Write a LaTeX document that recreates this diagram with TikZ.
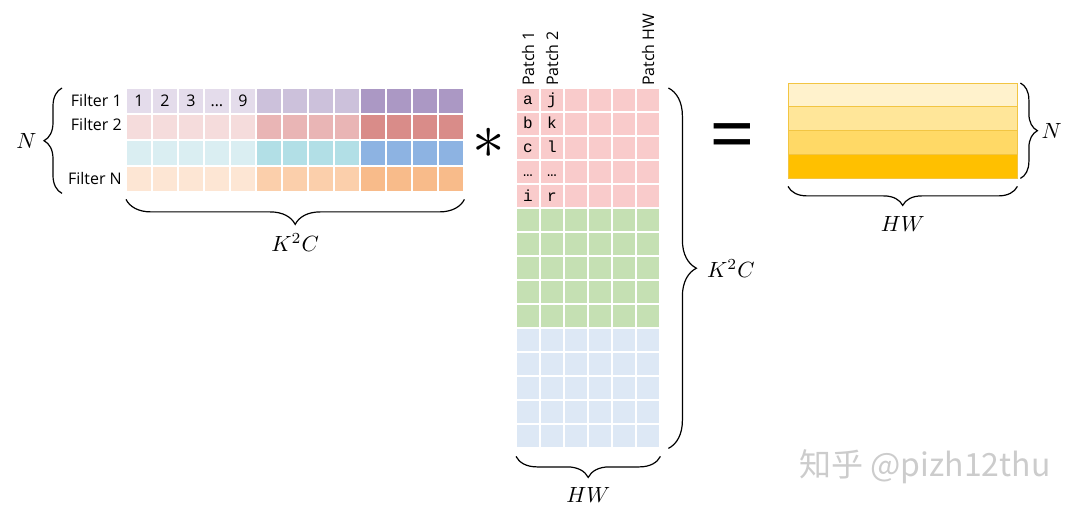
\documentclass[tikz,border=0pt]{standalone}
\usepackage{fontspec}
\setmainfont{Open Sans}
\setmonofont{Liberation Mono}
\newfontfamily\cjkfont{Noto Sans CJK SC}
\usetikzlibrary{decorations.pathreplacing}

\definecolor{pur1}{HTML}{E4DCEB}
\definecolor{pur2}{HTML}{CCC1DB}
\definecolor{pur3}{HTML}{AB98C4}
\definecolor{red1}{HTML}{F5DCDC}
\definecolor{red2}{HTML}{E9B5B5}
\definecolor{red3}{HTML}{D98C89}
\definecolor{cya1}{HTML}{DAEEF2}
\definecolor{cya2}{HTML}{B2DFE6}
\definecolor{cya3}{HTML}{8DB3E2}
\definecolor{ora1}{HTML}{FDE6D4}
\definecolor{ora2}{HTML}{FBCFAB}
\definecolor{ora3}{HTML}{F8BB8A}
\definecolor{patch1}{HTML}{F9CBCB}
\definecolor{patch2}{HTML}{C5E0B3}
\definecolor{patch3}{HTML}{DDE8F5}
\definecolor{gold1}{HTML}{FFF2CC}
\definecolor{gold2}{HTML}{FFE699}
\definecolor{gold3}{HTML}{FFD966}
\definecolor{gold4}{HTML}{FFC000}
\definecolor{goldline}{HTML}{F2C542}

\tikzset{
    curly/.style={decorate, decoration={brace, amplitude=#1}, line width=1.2pt},
    matbox/.style={inner sep=0pt, anchor=north west},
    filtertxt/.style={anchor=east, inner sep=0pt, font=\fontsize{16}{19}\selectfont},
    numtxt/.style={anchor=base, inner sep=0pt, font=\fontsize{16}{19}\selectfont},
    monotxt/.style={anchor=base, inner sep=0pt, font=\ttfamily\fontsize{16}{19}\selectfont},
    patchtxt/.style={anchor=west, rotate=90, inner sep=0pt, font=\fontsize{16}{19}\selectfont},
    mathtxt/.style={scale=2.2, inner sep=1pt}
}

\begin{document}
\begin{tikzpicture}[x=1pt, y=-1pt]
    \useasboundingbox (0,0) rectangle (1080,516);

    % Filter matrix
    \foreach \r/\hue in {0/pur,1/red,2/cya,3/ora}
        \foreach \c in {0,...,12}{
            \pgfmathtruncatemacro\s{\c<5 ? 1 : (\c<9 ? 2 : 3)}
            \fill[\hue\s] (127+26*\c, 89+26*\r) rectangle ++(24,24);
        }
    \node[matbox, minimum width=338pt, minimum height=104pt] (filters) at (126,88) {};
    \node[filtertxt] (f1) at (122,101) {Filter 1};
    \node[filtertxt] (f2) at (122,125) {Filter 2};
    \node[filtertxt] (fn) at (122,179) {Filter N};
    \foreach \t [count=\i from 0] in {1,2,3,…,9}
        \node[numtxt] (w\i) at (139+26*\i, 107) {\t};

    % N brace and K^2C brace
    \draw[curly=18] ([xshift=-64pt, yshift=-1pt]filters.south west) -- node[mathtxt, left=10pt] (nleft) {$N$} ([xshift=-64pt]filters.north west);
    \draw[curly=25] ([yshift=-7pt]filters.south east) -- node[mathtxt, below=14pt] (kleft) {$K^2C$} ([yshift=-7pt]filters.south west);

    % Times sign
    \node[scale=6.5] (times) at (489,143) {$\ast$};

    % Patch matrix
    \foreach \r in {0,...,14}
        \foreach \c in {0,...,5}{
            \pgfmathtruncatemacro\s{\r<5 ? 1 : (\r<10 ? 2 : 3)}
            \fill[patch\s] (517+24*\c, 89+24*\r) rectangle ++(22,22);
        }
    \node[matbox, minimum width=144pt, minimum height=360pt] (patches) at (516,88) {};
    \node[patchtxt] (p1) at (528,86) {Patch 1};
    \node[patchtxt] (p2) at (552,86) {Patch 2};
    \node[patchtxt] (phw) at (648,86) {Patch HW};
    \foreach \t [count=\i from 0] in {a,b,c,…,i}
        \node[monotxt] (pa\i) at (528, 105+24*\i) {\t};
    \foreach \t [count=\i from 0] in {j,k,l,…,r}
        \node[monotxt] (pb\i) at (552, 105+24*\i) {\t};

    \draw[curly=28] ([xshift=8pt]patches.north east) -- node[mathtxt, right=16pt] (kright) {$K^2C$} ([xshift=8pt]patches.south east);
    \draw[curly=21] ([yshift=-8pt]patches.south east) -- node[mathtxt, below=12.5pt] (hwmid) {$HW$} ([yshift=-8pt]patches.south west);

    % Equals sign
    \node[inner sep=0pt, font=\fontsize{80}{80}\selectfont] (eq) at (732,143) {=};

    % Output matrix
    \foreach \r/\col in {0/gold1,1/gold2,2/gold3,3/gold4}
        \filldraw[fill=\col, draw=goldline, line width=0.7pt] (788, 83+23.75*\r) rectangle ++(229,23.75);
    \node[matbox, minimum width=229pt, minimum height=95pt] (result) at (788,83) {};
    \draw[curly=17] ([xshift=3pt]result.north east) -- node[mathtxt, right=8pt] (nright) {$N$} ([xshift=3pt]result.south east);
    \draw[curly=19] ([yshift=-8pt]result.south east) -- node[mathtxt, below=12pt] (hwright) {$HW$} ([yshift=-8pt]result.south west);

    % Watermark
    \node[font=\cjkfont\fontsize{32}{32}\selectfont, text=black!20] (mark) at (925,467) {知乎 @pizh12thu};
\end{tikzpicture}
\end{document}
